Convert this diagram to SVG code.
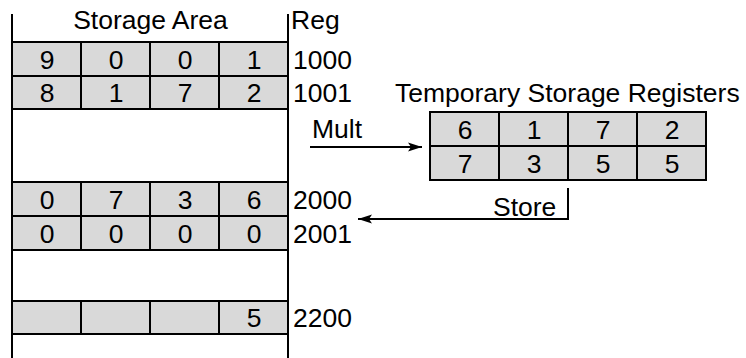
<svg xmlns="http://www.w3.org/2000/svg" width="746" height="358" viewBox="0 0 746 358">
<style>
.cell{fill:#d9d9d9;stroke:#000;stroke-width:2}
.ln{stroke:#000;stroke-width:2;fill:none}
.t{font-family:"Liberation Sans",Arial,sans-serif;font-size:26.5px;fill:#000}
.c{text-anchor:middle}
</style>
<defs>
<marker id="ah" markerUnits="userSpaceOnUse" markerWidth="16" markerHeight="12" refX="14" refY="6" orient="auto">
<path d="M0,1.5 L14,6 L0,10.5 L3,6 Z" fill="#000"/>
</marker>
</defs>
<g id="storage">
<line class="ln" x1="12" y1="14" x2="12" y2="358"/>
<line class="ln" x1="288" y1="14" x2="288" y2="358"/>
<text class="t c" x="150.5" y="28.5">Storage Area</text>
<text class="t" x="291" y="28.5">Reg</text>
</g>
<g id="row1000">
<rect class="cell" x="12" y="42" width="69" height="34"/><rect class="cell" x="81" y="42" width="69" height="34"/><rect class="cell" x="150" y="42" width="69" height="34"/><rect class="cell" x="219" y="42" width="69" height="34"/>
<text class="t c" x="47" y="68.5">9</text>
<text class="t c" x="116" y="68.5">0</text>
<text class="t c" x="185" y="68.5">0</text>
<text class="t c" x="254" y="68.5">1</text>
<text class="t" x="293" y="68.5">1000</text>
</g>
<g id="row1001">
<rect class="cell" x="12" y="76" width="69" height="33"/><rect class="cell" x="81" y="76" width="69" height="33"/><rect class="cell" x="150" y="76" width="69" height="33"/><rect class="cell" x="219" y="76" width="69" height="33"/>
<text class="t c" x="47" y="102">8</text>
<text class="t c" x="116" y="102">1</text>
<text class="t c" x="185" y="102">7</text>
<text class="t c" x="254" y="102">2</text>
<text class="t" x="293" y="102">1001</text>
</g>
<g id="row2000">
<rect class="cell" x="12" y="182" width="69" height="34"/><rect class="cell" x="81" y="182" width="69" height="34"/><rect class="cell" x="150" y="182" width="69" height="34"/><rect class="cell" x="219" y="182" width="69" height="34"/>
<text class="t c" x="47" y="208.5">0</text>
<text class="t c" x="116" y="208.5">7</text>
<text class="t c" x="185" y="208.5">3</text>
<text class="t c" x="254" y="208.5">6</text>
<text class="t" x="293" y="208.5">2000</text>
</g>
<g id="row2001">
<rect class="cell" x="12" y="216" width="69" height="34"/><rect class="cell" x="81" y="216" width="69" height="34"/><rect class="cell" x="150" y="216" width="69" height="34"/><rect class="cell" x="219" y="216" width="69" height="34"/>
<text class="t c" x="47" y="242.5">0</text>
<text class="t c" x="116" y="242.5">0</text>
<text class="t c" x="185" y="242.5">0</text>
<text class="t c" x="254" y="242.5">0</text>
<text class="t" x="293" y="242.5">2001</text>
</g>
<g id="row2200">
<rect class="cell" x="12" y="301" width="69" height="33"/><rect class="cell" x="81" y="301" width="69" height="33"/><rect class="cell" x="150" y="301" width="69" height="33"/><rect class="cell" x="219" y="301" width="69" height="33"/>
<text class="t c" x="254" y="327">5</text>
<text class="t" x="293" y="327">2200</text>
</g>
<g id="temp">
<text class="t" x="395" y="102">Temporary Storage Registers</text>
<rect class="cell" x="430" y="112" width="69" height="34"/><rect class="cell" x="499" y="112" width="69" height="34"/><rect class="cell" x="568" y="112" width="69" height="34"/><rect class="cell" x="637" y="112" width="69" height="34"/>
<rect class="cell" x="430" y="146" width="69" height="34"/><rect class="cell" x="499" y="146" width="69" height="34"/><rect class="cell" x="568" y="146" width="69" height="34"/><rect class="cell" x="637" y="146" width="69" height="34"/>
<text class="t c" x="465" y="138.5">6</text>
<text class="t c" x="534" y="138.5">1</text>
<text class="t c" x="603" y="138.5">7</text>
<text class="t c" x="672" y="138.5">2</text>
<text class="t c" x="465" y="172.5">7</text>
<text class="t c" x="534" y="172.5">3</text>
<text class="t c" x="603" y="172.5">5</text>
<text class="t c" x="672" y="172.5">5</text>
</g>
<g id="connectors">
<line class="ln" x1="310" y1="147" x2="422" y2="147" marker-end="url(#ah)"/>
<text class="t" x="312" y="137.5">Mult</text>
<polyline class="ln" points="568,188 568,219 358,219" marker-end="url(#ah)"/>
<text class="t" x="493" y="215.5">Store</text>
</g>
</svg>
